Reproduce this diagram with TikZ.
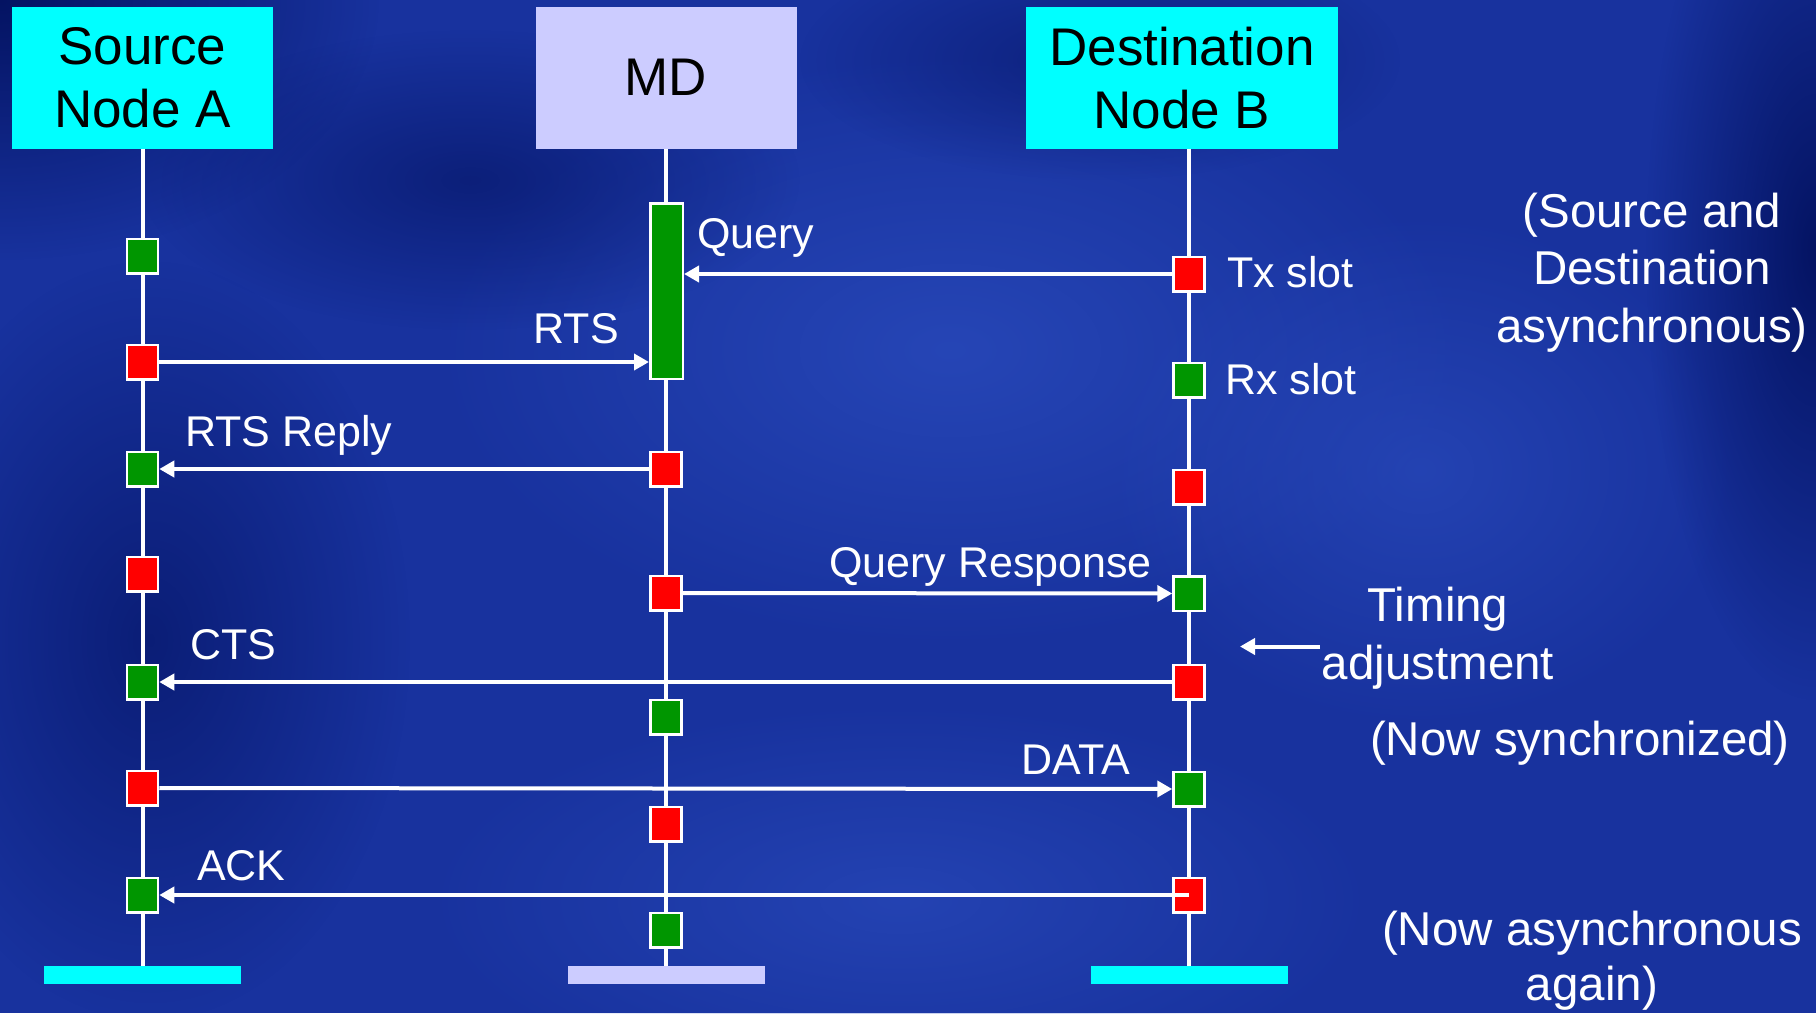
\documentclass[tikz,border=0pt]{standalone}
\usepackage{fontspec}
\setmainfont{Liberation Sans}
\usetikzlibrary{arrows.meta,fadings}
\definecolor{bgbase}{RGB}{24,50,158}
\definecolor{bgdark}{RGB}{2,16,92}
\definecolor{bglight}{RGB}{44,78,192}
\definecolor{hdrcyan}{RGB}{0,255,255}
\definecolor{hdrlav}{RGB}{204,204,255}
\definecolor{slotred}{RGB}{255,0,0}
\definecolor{slotgreen}{RGB}{0,150,0}
\tikzfading[name=softspot, inner color=transparent!0, outer color=transparent!100]
\begin{document}
\begin{tikzpicture}[x=1pt,y=-1pt,
  hdr/.style={inner sep=0, align=center, text=black, font=\fontsize{53}{63}\selectfont},
  endbar/.style={inner sep=0, minimum width=197pt, minimum height=17.5pt},
  life/.style={draw=white, line width=4pt},
  slotbox/.style={draw=white, line width=2.5pt, inner sep=0, minimum width=31pt, minimum height=34.5pt},
  redslot/.style={slotbox, fill=slotred},
  greenslot/.style={slotbox, fill=slotgreen},
  msg/.style={draw=white, line width=4pt, -{Triangle[length=15pt,width=16pt]}},
  lbl/.style={text=white, inner sep=0, font=\fontsize{43}{50}\selectfont},
  note/.style={text=white, inner sep=0, align=center, font=\fontsize{47.5}{57.5}\selectfont}
]
% background
\useasboundingbox (0,0) rectangle (1816,1013);
\fill[bgbase] (0,0) rectangle (1816,1013);
\fill[bglight, path fading=softspot, opacity=0.7] (950,350) ellipse (520 and 300);
\fill[bglight, path fading=softspot, opacity=0.6] (900,900) ellipse (480 and 200);
\fill[bglight, path fading=softspot, opacity=0.6] (1420,470) ellipse (320 and 260);
\fill[bgdark, path fading=softspot, opacity=0.9] (0,0) ellipse (380 and 260);
\fill[bgdark, path fading=softspot, opacity=0.6] (150,640) ellipse (260 and 380);
\fill[bgdark, path fading=softspot, opacity=0.55] (470,180) ellipse (330 and 150);
\fill[bgdark, path fading=softspot, opacity=0.9] (1816,250) ellipse (170 and 450);
\fill[bgdark, path fading=softspot, opacity=0.5] (1100,60) ellipse (300 and 120);

% headers
\node[hdr, fill=hdrcyan, minimum width=261pt, minimum height=141.5pt] (srcA) at (142.5,77.75) {Source\\Node A};
\node[hdr, fill=hdrlav, minimum width=261pt, minimum height=141.5pt] (md) at (666,77.75) {MD};
\node[hdr, fill=hdrcyan, minimum width=312pt, minimum height=141.5pt] (dstB) at (1182,77.75) {Destination\\Node B};

% bottom bars
\node[endbar, fill=hdrcyan] (barA) at (142.5,975) {};
\node[endbar, fill=hdrlav] (barM) at (666,975) {};
\node[endbar, fill=hdrcyan] (barB) at (1189,975) {};

% lifelines
\draw[life] (barA.north |- srcA.south) -- (barA.north);
\draw[life] (barM.north |- md.south) -- (barM.north);
\draw[life] (barB.north |- dstB.south) -- (barB.north);

% slots on A
\node[greenslot] (a1) at (142.5,256) {};
\node[redslot]   (a2) at (142.5,362) {};
\node[greenslot] (a3) at (142.5,469) {};
\node[redslot]   (a4) at (142.5,574) {};
\node[greenslot] (a5) at (142.5,682) {};
\node[redslot]   (a6) at (142.5,788) {};
\node[greenslot] (a7) at (142.5,895) {};
% slots on MD
\node[slotbox, fill=slotgreen, minimum width=32.5pt, minimum height=175.5pt] (mbar) at (666.5,291) {};
\node[redslot]   (m1) at (666,469) {};
\node[redslot]   (m2) at (666,593) {};
\node[greenslot] (m3) at (666,717) {};
\node[redslot]   (m4) at (666,824) {};
\node[greenslot] (m5) at (666,930) {};
% slots on B
\node[redslot]   (b1) at (1189,274) {};
\node[greenslot] (b2) at (1189,380) {};
\node[redslot]   (b3) at (1189,487) {};
\node[greenslot] (b4) at (1189,593.5) {};
\node[redslot]   (b5) at (1189,682) {};
\node[greenslot] (b6) at (1189,789) {};
\node[redslot]   (b7) at (1189,895) {};

% messages
\draw[msg] (b1.west) -- (b1.west -| mbar.east);
\draw[msg] (a2.east) -- (a2.east -| mbar.west);
\draw[msg] (m1.west) -- (a3.east);
\draw[msg] (m2.east) -- (b4.west);
\draw[msg] (b5.west) -- (a5.east);
\draw[msg] (a6.east) -- (b6.west);
\draw[msg] (b7.center) -- (a7.east);

% timing adjustment arrow
\coordinate (tadjS) at (1320,646.5);
\coordinate (tadjE) at (1240,646.5);
\draw[msg] (tadjS) -- (tadjE);

% labels
\node[lbl, anchor=base west] (lQuery) at (697,248) {Query};
\node[lbl, anchor=base east] (lRTS) at (619,343) {RTS};
\node[lbl, anchor=base west] (lTx) at (1227,287) {Tx slot};
\node[lbl, anchor=base west] (lRx) at (1225,394) {Rx slot};
\node[lbl, anchor=base west] (lRTSR) at (185,446) {RTS Reply};
\node[lbl, anchor=base east] (lQR) at (1152,577) {Query Response};
\node[lbl, anchor=base west] (lCTS) at (190,659) {CTS};
\node[lbl, anchor=base east] (lDATA) at (1130,774) {DATA};
\node[lbl, anchor=base west] (lACK) at (197,880) {ACK};

% notes (base anchor = baseline of last line)
\node[note, anchor=base] (nAsync) at (1652,342) {(Source and\\Destination\\asynchronous)};
\node[note, anchor=base, font=\fontsize{47.5}{58}\selectfont] (nTiming) at (1438,679) {Timing\\adjustment};
\node[note, anchor=base] (nSync) at (1580,755) {(Now synchronized)};
\node[note, anchor=base, font=\fontsize{47.5}{55}\selectfont] (nAgain) at (1592,1000) {(Now asynchronous\\again)};
\end{tikzpicture}
\end{document}
